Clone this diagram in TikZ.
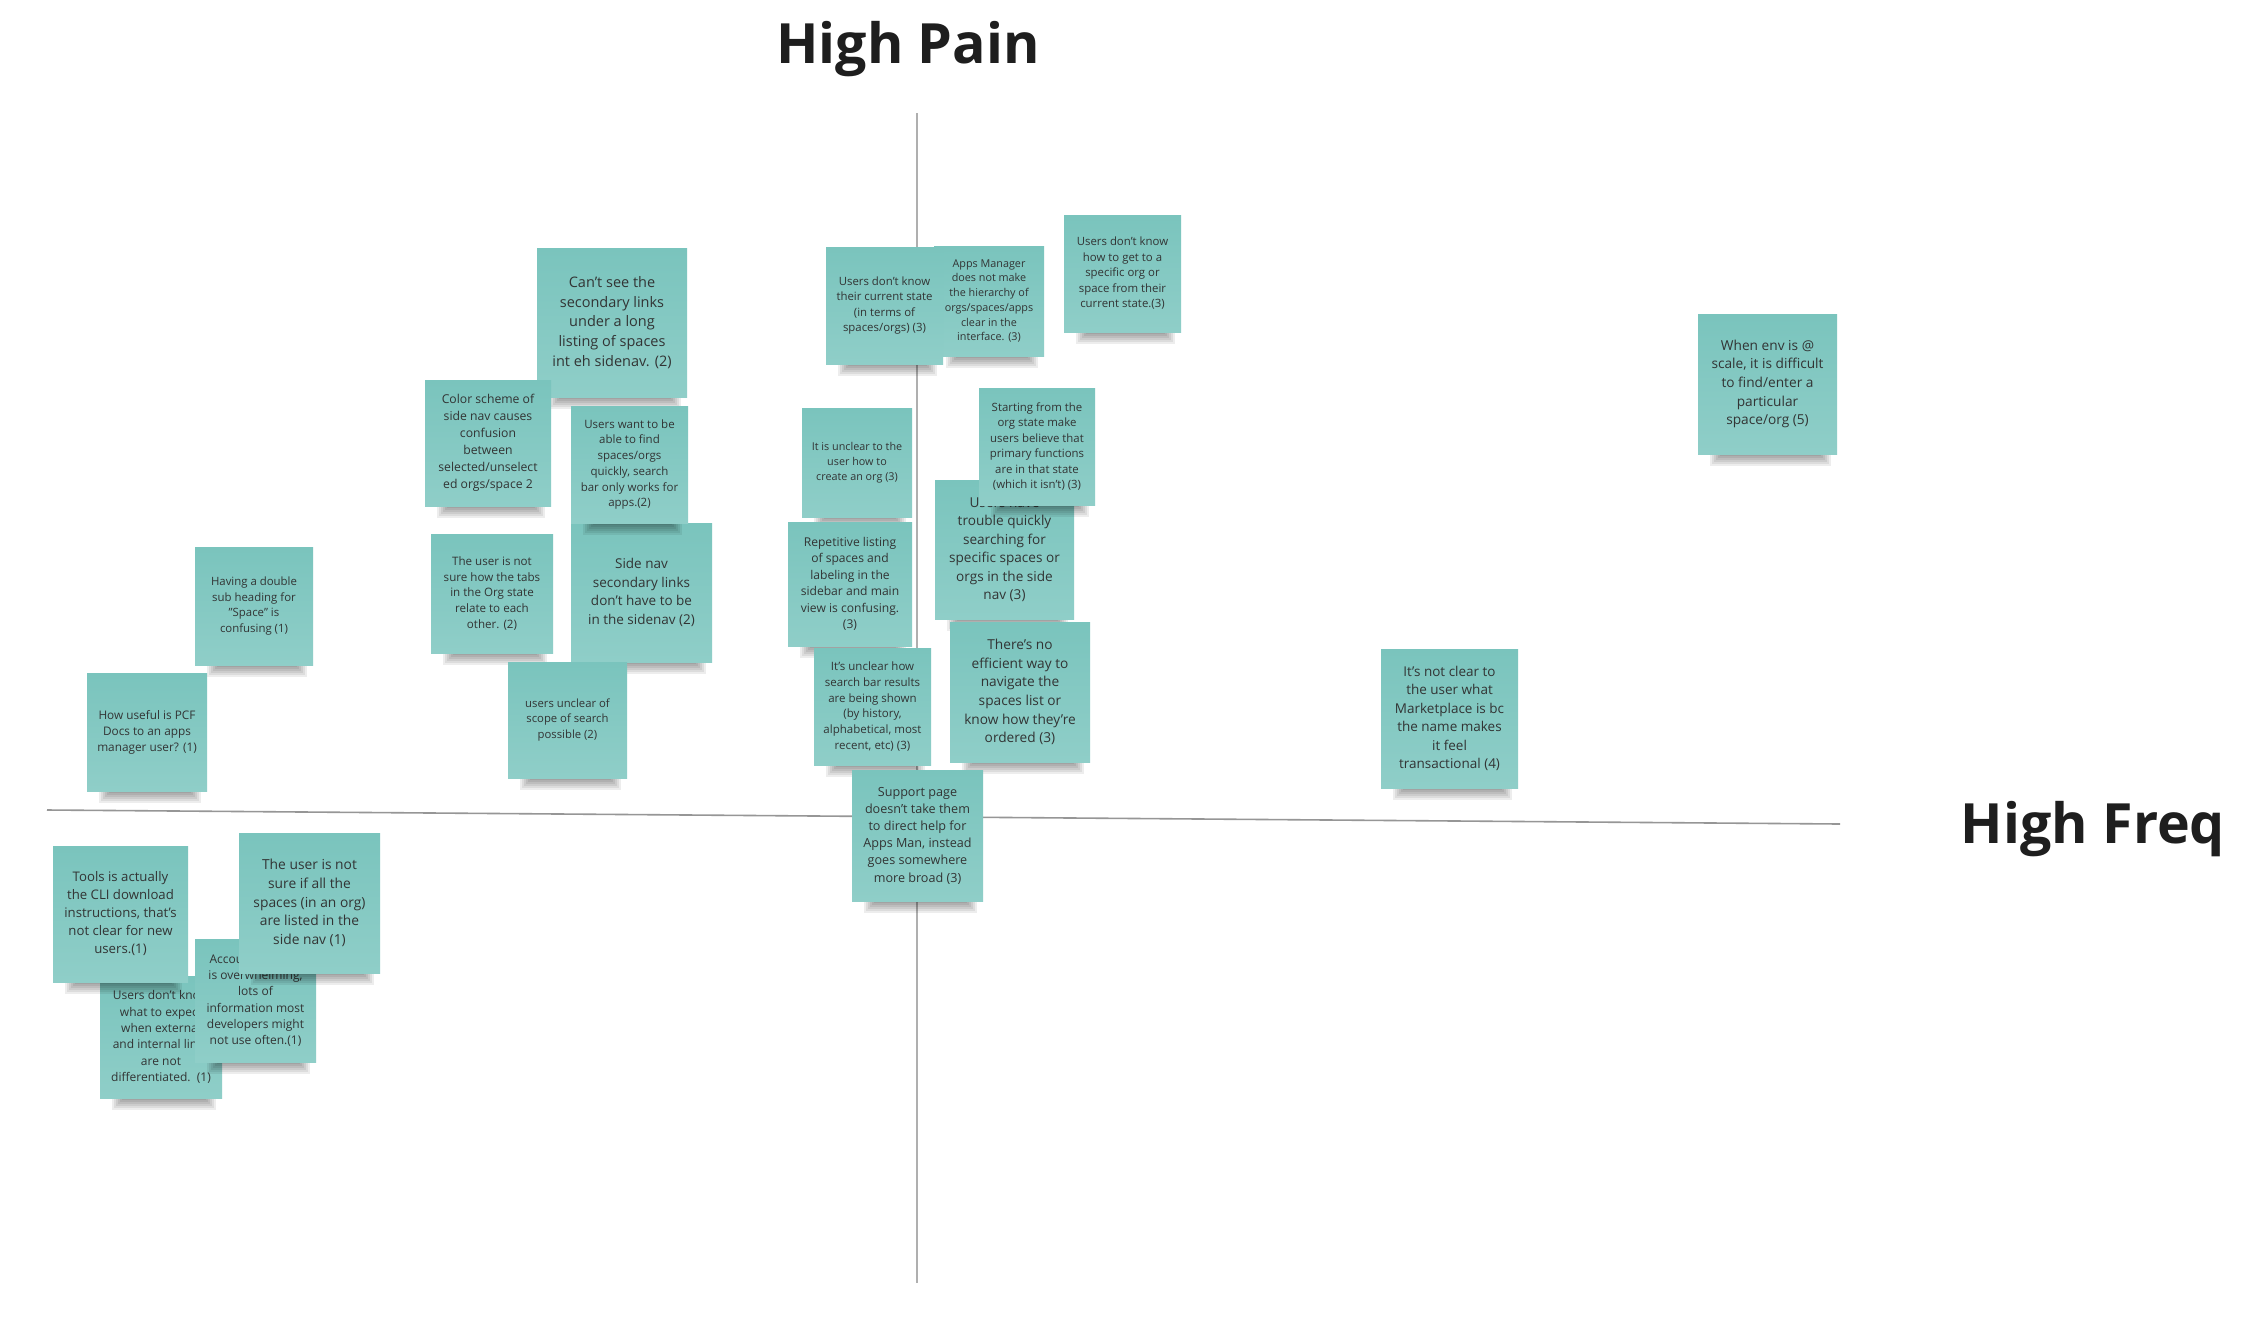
\documentclass[tikz,border=0pt]{standalone}
\usepackage{fontspec}
\setmainfont{Open Sans}
\definecolor{notetop}{RGB}{122,196,189}
\definecolor{notebot}{RGB}{143,206,200}
\definecolor{notetext}{RGB}{50,52,52}
\definecolor{titletext}{RGB}{30,30,30}
\definecolor{haxiscol}{RGB}{150,150,150}
\definecolor{vaxiscol}{RGB}{175,175,175}
\tikzset{
  sticky/.style={rectangle, inner sep=0pt, align=center, top color=notetop, bottom color=notebot, text=notetext},
  bigtitle/.style={font=\fontsize{55.5}{66}\selectfont\bfseries, text=titletext, inner sep=0pt},
  haxis/.style={draw=haxiscol, line width=1.6pt},
  vaxis/.style={draw=vaxiscol, line width=1.6pt}
}
% #1 name, #2 x1, #3 y1, #4 x2, #5 y2, #6 font size, #7 line pitch, #8 text
\newcommand\stickynote[8]{%
  \foreach \i in {0,...,6}{\fill[black,opacity=0.07] ({#2+12+2*\i},{#5-2}) rectangle ({#4-6-2*\i},{#5+12-2*\i});}
  \node[sticky, minimum width={(#4)-(#2)}, minimum height={(#5)-(#3)}, font=\fontsize{#6}{#7}\selectfont] (#1) at ({((#2)+(#4))/2},{((#3)+(#5))/2}) {#8};
}
\begin{document}
\begin{tikzpicture}[x=1pt,y=-1pt]
\useasboundingbox (0,0) rectangle (2256,1320);
\fill[white] (0,0) rectangle (2256,1320);
% axes
\coordinate (hL) at (47,810);
\coordinate (hR) at (1840,824);
\coordinate (vT) at (917,113);
\coordinate (vB) at (917,1283);
\draw[haxis] (hL) -- (hR);
\draw[vaxis] (vT) -- (vB);
% titles
\node[bigtitle, anchor=base] (pain) at (908,63) {High Pain};
\node[bigtitle, anchor=base] (freq) at (2093,843) {High Freq};
% left cluster
\stickynote{n1}{537}{248}{687}{397}{14.5}{19.7}{Can't see the\\secondary links\\under a long\\listing of spaces\\int eh sidenav. (2)}
\stickynote{n2}{425}{380}{551}{506}{12.2}{16.9}{Color scheme of\\side nav causes\\confusion\\between\\selected/unselect\\ed orgs/space 2}
\stickynote{n6}{571}{523}{712}{662}{13.5}{18.4}{Side nav\\secondary links\\don't have to be\\in the sidenav (2)}
\stickynote{n3}{571}{406}{688}{523}{11.5}{15.7}{Users want to be\\able to find\\spaces/orgs\\quickly, search\\bar only works for\\apps.(2)}
\stickynote{n4}{195}{547}{313}{665}{11.4}{15.6}{Having a double\\sub heading for\\"Space" is\\confusing (1)}
\stickynote{n5}{431}{534}{553}{653}{11.6}{15.8}{The user is not\\sure how the tabs\\in the Org state\\relate to each\\other. (2)}
\stickynote{n7}{508}{662}{627}{778}{11.3}{15.3}{users unclear of\\scope of search\\possible (2)}
\stickynote{n8}{87}{673}{207}{791}{11.8}{16}{How useful is PCF\\Docs to an apps\\manager user? (1)}
\stickynote{n12}{100}{976}{222}{1098}{12}{16.3}{Users don't know\\what to expect\\when external\\and internal links\\are not\\differentiated.~~(1)}
\stickynote{n11}{195}{939}{316}{1062}{12}{16.3}{Account settings\\is overwhelming,\\lots of\\information most\\developers might\\not use often.(1)}
\stickynote{n10}{239}{833}{380}{973}{13.8}{18.75}{The user is not\\sure if all the\\spaces (in an org)\\are listed in the\\side nav (1)}
\stickynote{n9}{53}{846}{188}{982}{13.2}{18}{Tools is actually\\the CLI download\\instructions, that's\\not clear for new\\users.(1)}
% middle cluster
\stickynote{n14}{934}{246}{1044}{356}{10.8}{14.7}{Apps Manager\\does not make\\the hierarchy of\\orgs/spaces/apps\\clear in the\\interface. (3)}
\stickynote{n13}{826}{247}{943}{364}{11.4}{15.6}{Users don't know\\their current state\\(in terms of\\spaces/orgs) (3)}
\stickynote{n15}{1064}{215}{1181}{332}{11.4}{15.5}{Users don't know\\how to get to a\\specific org or\\space from their\\current state.(3)}
\stickynote{n16}{802}{408}{912}{517}{10.8}{14.7}{It is unclear to the\\user how to\\create an org (3)}
\stickynote{n17}{788}{522}{912}{646}{12.1}{16.5}{Repetitive listing\\of spaces and\\labeling in the\\sidebar and main\\view is confusing.\\(3)}
\stickynote{n18}{935}{480}{1074}{619}{13.6}{18.5}{Users have\\trouble quickly\\searching for\\specific spaces or\\orgs in the side\\nav (3)}
\stickynote{n19}{979}{388}{1095}{505}{11.4}{15.5}{Starting from the\\org state make\\users believe that\\primary functions\\are in that state\\(which it isn't) (3)}
\stickynote{n21}{950}{622}{1090}{762}{13.7}{18.7}{There's no\\efficient way to\\navigate the\\spaces list or\\know how they're\\ordered (3)}
\stickynote{n20}{814}{648}{931}{765}{11.5}{15.7}{It's unclear how\\search bar results\\are being shown\\(by history,\\alphabetical, most\\recent, etc) (3)}
\stickynote{n22}{852}{770}{983}{901}{12.6}{17.2}{Support page\\doesn't take them\\to direct help for\\Apps Man, instead\\goes somewhere\\more broad (3)}
% right side
\stickynote{n23}{1698}{314}{1837}{454}{13.7}{18.6}{When env is @\\scale, it is difficult\\to find/enter a\\particular\\space/org (5)}
\stickynote{n24}{1381}{649}{1518}{788}{13.5}{18.4}{It's not clear to\\the user what\\Marketplace is bc\\the name makes\\it feel\\transactional (4)}
\end{tikzpicture}
\end{document}
